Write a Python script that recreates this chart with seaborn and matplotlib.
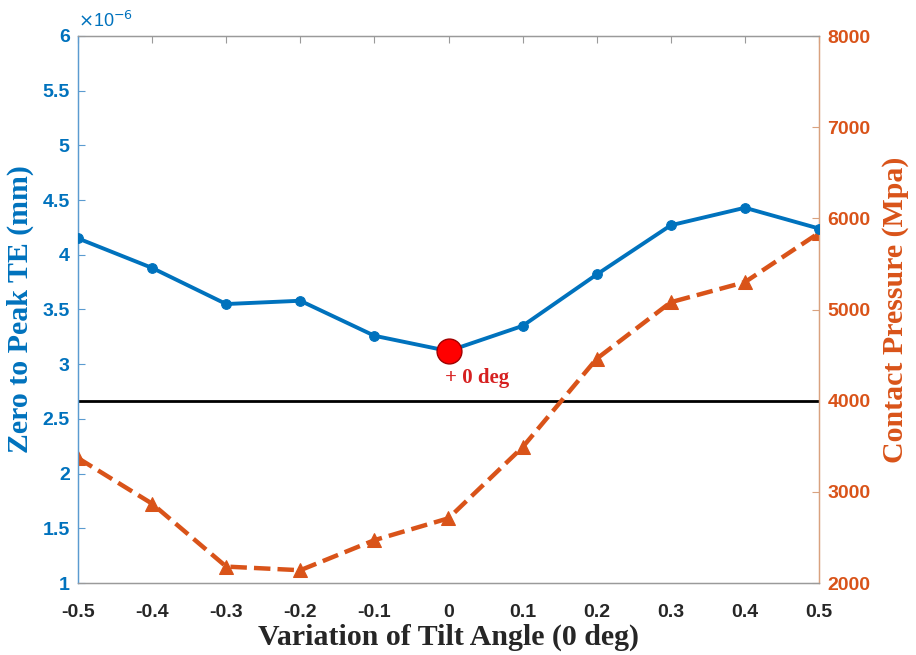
import matplotlib
matplotlib.use("Agg")
import matplotlib.pyplot as plt
import seaborn as sns
import pandas as pd
from matplotlib.ticker import FuncFormatter

# ---- data ----
tilt = [-0.5, -0.4, -0.3, -0.2, -0.1, 0.0, 0.1, 0.2, 0.3, 0.4, 0.5]
te_e6 = [4.15, 3.88, 3.55, 3.58, 3.26, 3.12, 3.35, 3.82, 4.27, 4.43, 4.24]  # x 1e-6 mm
pressure = [3370, 2870, 2180, 2140, 2470, 2710, 3490, 4460, 5080, 5300, 5840]
threshold = 4000
highlight_tilt = 0.0
x_ticks = [-0.5, -0.4, -0.3, -0.2, -0.1, 0, 0.1, 0.2, 0.3, 0.4, 0.5]
left_ticks = [1, 1.5, 2, 2.5, 3, 3.5, 4, 4.5, 5, 5.5, 6]
right_ticks = [2000, 3000, 4000, 5000, 6000, 7000, 8000]

BLUE = "#0072BD"
ORANGE = "#D95319"
BLUE_SP = "#5B9BD0"
ORANGE_SP = "#D9A27F"
GRAY = "#9A9A9A"

sns.set_theme(style="white")
plt.rcParams["font.family"] = ["Liberation Sans", "DejaVu Sans"]

df = pd.DataFrame({"tilt": tilt, "te": te_e6, "p": pressure})
hl = df[df["tilt"] == highlight_tilt]

fig = plt.figure(figsize=(9.16, 6.55), dpi=100)
ax = fig.add_axes([78 / 916, 1 - 583 / 655, (819 - 78) / 916, (583 - 36) / 655])
ax2 = ax.twinx()

# right axis content (drawn first, behind)
ax2.axhline(threshold, color="black", lw=2, zorder=1)
sns.lineplot(data=df, x="tilt", y="p", ax=ax2, color=ORANGE, lw=3.2,
             linestyle="--", dashes=(5, 3), marker="^", markersize=10,
             markeredgecolor=ORANGE, zorder=3)
ax2.set_ylim(2000, 8000)
ax2.set_yticks(right_ticks)
ax2.set_ylabel("Contact Pressure (Mpa)", color=ORANGE, fontsize=21.5,
               fontweight="bold", family="Liberation Serif", labelpad=8)

# left axis content
ax.set_zorder(ax2.get_zorder() + 1)
ax.patch.set_visible(False)
sns.lineplot(data=df, x="tilt", y="te", ax=ax, color=BLUE, lw=2.8,
             marker="o", markersize=7, markeredgecolor=BLUE, zorder=4)
sns.scatterplot(data=hl, x="tilt", y="te", ax=ax, color="#FF0000", s=320,
                edgecolor="#A00000", linewidth=1, zorder=5)
ax.text(hl["tilt"].iloc[0] - 0.005, 2.87, "+ 0 deg", color="#D62020",
        fontsize=15, fontweight="bold", family="Liberation Serif",
        ha="left", va="center", zorder=6)

ax.set_xlim(-0.5, 0.5)
ax.set_ylim(1, 6)
ax.set_xticks(x_ticks)
ax.set_yticks(left_ticks)
ax.yaxis.set_major_formatter(FuncFormatter(lambda v, p: f"{v:g}"))
ax.xaxis.set_major_formatter(FuncFormatter(lambda v, p: f"{v:g}"))
ax.set_xlabel("Variation of Tilt Angle (0 deg)", fontsize=21.5, fontweight="bold",
              family="Liberation Serif", color="#262626", labelpad=2)
ax.set_ylabel("Zero to Peak TE (mm)", color=BLUE, fontsize=21.5, fontweight="bold",
              family="Liberation Serif", labelpad=6)
ax.text(0.0, 1.01, r"$\times$10$^{-6}$", transform=ax.transAxes, color=BLUE,
        fontsize=13, ha="left", va="bottom")

for t in ax.get_yticklabels():
    t.set_fontweight("bold")
    t.set_color(BLUE)
for t in ax.get_xticklabels():
    t.set_fontweight("bold")
    t.set_color("#262626")
for t in ax2.get_yticklabels():
    t.set_fontweight("bold")
    t.set_color(ORANGE)

ax.tick_params(axis="both", direction="in", labelsize=14, length=5, width=0.8,
               top=True, pad=6)
ax.tick_params(axis="y", colors=BLUE_SP, labelcolor=BLUE)
ax.tick_params(axis="x", colors=GRAY, labelcolor="#262626", pad=15)
ax2.tick_params(axis="y", direction="in", labelsize=14, length=5, width=0.8,
                colors=ORANGE_SP, labelcolor=ORANGE, pad=6)

for a in (ax, ax2):
    for s in a.spines.values():
        s.set_linewidth(0.9)
    a.spines["top"].set_color(GRAY)
    a.spines["bottom"].set_color(GRAY)
    a.spines["left"].set_color(BLUE_SP)
    a.spines["right"].set_color(ORANGE_SP)

fig.savefig("out.png", dpi=100, facecolor="white")
